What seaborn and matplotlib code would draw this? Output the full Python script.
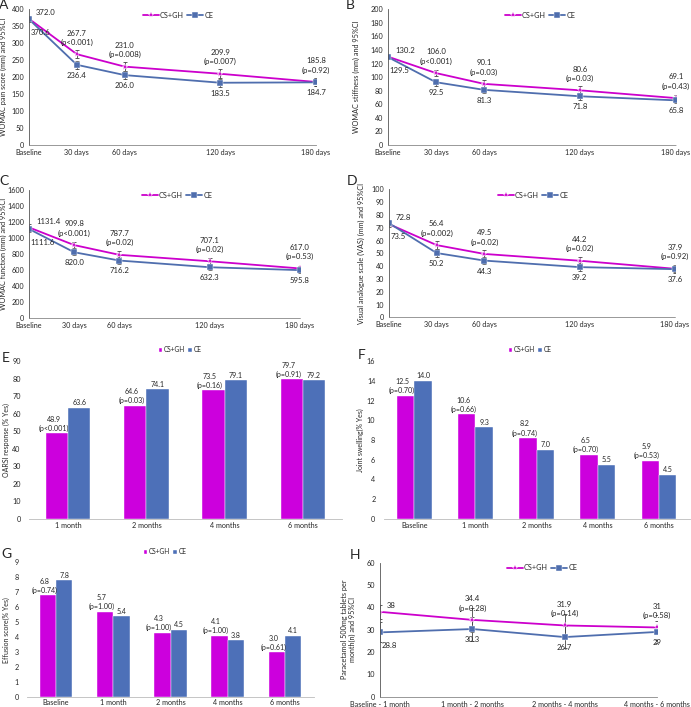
import numpy as np
import pandas as pd
import seaborn as sns
import matplotlib.pyplot as plt

sns.set_style('white')
plt.rcParams['font.family'] = ['Lato', 'DejaVu Sans']

groups = ['CS+GH', 'CE']
colors = {'CS+GH': '#CC00CC', 'CE': '#4F6EAE'}
bar_colors = {'CS+GH': '#CC00DD', 'CE': '#4D70B8'}

# line panels A-D
days = [0, 30, 60, 120, 180]
day_labels = ['Baseline', '30 days', '60 days', '120 days', '180 days']

pain_cs = [372.0, 267.7, 231.0, 209.9, 185.8]
pain_ce = [370.6, 236.4, 206.0, 183.5, 184.7]
pain_cs_err = [8, 12, 13, 13, 12]
pain_ce_err = [8, 12, 12, 12, 12]
pain_p = [None, 'p<0.001', 'p=0.008', 'p=0.007', 'p=0.92']

stiff_cs = [130.2, 106.0, 90.1, 80.6, 69.1]
stiff_ce = [129.5, 92.5, 81.3, 71.8, 65.8]
stiff_cs_err = [3, 5, 5, 6, 4]
stiff_ce_err = [3, 5, 4, 5, 4]
stiff_p = [None, 'p<0.001', 'p=0.03', 'p=0.03', 'p=0.43']

func_cs = [1131.4, 909.8, 787.7, 707.1, 617.0]
func_ce = [1111.6, 820.0, 716.2, 632.3, 595.8]
func_cs_err = [40, 40, 45, 45, 35]
func_ce_err = [35, 35, 40, 40, 35]
func_p = [None, 'p<0.001', 'p=0.02', 'p=0.02', 'p=0.53']

vas_cs = [72.8, 56.4, 49.5, 44.2, 37.9]
vas_ce = [73.5, 50.2, 44.3, 39.2, 37.6]
vas_cs_err = [2, 3, 3, 3, 3]
vas_ce_err = [2, 3, 3, 3, 2]
vas_p = [None, 'p=0.002', 'p=0.02', 'p=0.02', 'p=0.92']

# bar panels E-G
months4 = ['1 month', '2 months', '4 months', '6 months']
months5 = ['Baseline', '1 month', '2 months', '4 months', '6 months']

oarsi_cs = [48.9, 64.6, 73.5, 79.7]
oarsi_ce = [63.6, 74.1, 79.1, 79.2]
oarsi_p = ['p<0.001', 'p=0.03', 'p=0.16', 'p=0.91']

swell_cs = [12.5, 10.6, 8.2, 6.5, 5.9]
swell_ce = [14.0, 9.3, 7.0, 5.5, 4.5]
swell_p = ['p=0.70', 'p=0.66', 'p=0.74', 'p=0.70', 'p=0.53']

eff_cs = [6.8, 5.7, 4.3, 4.1, 3.0]
eff_ce = [7.8, 5.4, 4.5, 3.8, 4.1]
eff_p = ['p=0.74', 'p=1.00', 'p=1.00', 'p=1.00', 'p=0.61']

# panel H
periods = ['Baseline - 1 month', '1 month - 2 months', '2 months - 4 months', '4 months - 6 months']
para_cs = [38, 34.4, 31.9, 31]
para_ce = [28.8, 30.3, 26.7, 29]
para_cs_err = [3, 5.3, 5.1, 5.7]
para_ce_err = [4.5, 5.2, 4.9, 5.0]
para_p = [None, 'p=0.28', 'p=0.14', 'p=0.58']

W, H = 691, 707
fig = plt.figure(figsize=(W / 100, H / 100), dpi=100)


def rect(l, t, r, b):
    return [l / W, 1 - b / H, (r - l) / W, (b - t) / H]


def fig_xy(x, y):
    return (x / W, 1 - y / H)


FS = 5.2     # ticks, axis titles
LBL = 5.6    # value labels


def style_axis(ax):
    sns.despine(ax=ax)
    ax.spines['left'].set_linewidth(0.6)
    ax.spines['left'].set_color('#555555')
    ax.spines['bottom'].set_linewidth(0.6)
    ax.tick_params(axis='both', labelsize=FS, length=2, width=0.5, pad=1.5)


def place_ylabel(ax, px):
    # put the y label centre at figure pixel column px
    l, b, w, h = ax.get_position().bounds
    ax.yaxis.set_label_coords((px / W - l) / w, 0.5)


def line_panel(ax, x, cs, ce, cs_err, ce_err, pvals, ylim, ystep, ylabel,
               xticks, xlabels, minor=None, fmt='{:.1f}', leg_xy=None, label_x=5):
    n = len(x)
    df = pd.DataFrame({'x': list(x) * 2, 'value': list(cs) + list(ce),
                       'group': ['CS+GH'] * n + ['CE'] * n})
    ax.errorbar(x, cs, yerr=cs_err, fmt='none', ecolor='#444444', elinewidth=0.6, capsize=1.5, capthick=0.6, zorder=1)
    ax.errorbar(x, ce, yerr=ce_err, fmt='none', ecolor='#444444', elinewidth=0.6, capsize=1.5, capthick=0.6, zorder=1)
    sns.lineplot(data=df, x='x', y='value', hue='group', style='group', hue_order=groups,
                 style_order=groups, palette=colors, markers={'CS+GH': '*', 'CE': 's'},
                 dashes=False, linewidth=1.3, markersize=4.5, markeredgewidth=0.3, ax=ax)
    ax.set_ylim(*ylim)
    ax.set_xlim(x[0], xticks[-1])
    ax.set_yticks(np.arange(ylim[0], ylim[1] + ystep / 2, ystep))
    ax.set_xticks(xticks)
    ax.set_xticklabels(xlabels)
    if minor is not None:
        ax.set_xticks(minor, minor=True)
    style_axis(ax)
    ax.tick_params(axis='x', which='both', direction='inout', length=3, width=0.5, color='#888888')
    ax.set_xlabel('')
    ax.set_ylabel(ylabel, fontsize=FS)
    place_ylabel(ax, label_x)
    ax.spines['bottom'].set_linestyle((0, (1, 1)))
    ax.spines['bottom'].set_color('#888888')
    for i in range(n):
        if i == 0:
            ax.annotate(fmt.format(cs[i]), (x[i], cs[i]), xytext=(5, 2), textcoords='offset points',
                        fontsize=LBL, ha='left', va='bottom')
            ax.annotate(fmt.format(ce[i]), (x[i], ce[i]), xytext=(1, -7), textcoords='offset points',
                        fontsize=LBL, ha='left', va='top')
        else:
            ax.annotate(fmt.format(cs[i]) + '\n(' + pvals[i] + ')', (x[i], cs[i]), xytext=(0, 6),
                        textcoords='offset points', fontsize=LBL, ha='center', va='bottom',
                        linespacing=1.35)
            ax.annotate(fmt.format(ce[i]), (x[i], ce[i]), xytext=(0, -5), textcoords='offset points',
                        fontsize=LBL, ha='center', va='top')
    ax.legend(loc='center', bbox_to_anchor=fig_xy(*leg_xy), bbox_transform=fig.transFigure,
              ncol=2, frameon=False, fontsize=FS, handlelength=2.2, columnspacing=0.4,
              handletextpad=0.2, markerscale=0.9)


def bar_panel(ax, cats, cs, ce, pvals, ylim, ystep, ylabel, leg_xy, label_x=10):
    n = len(cats)
    df = pd.DataFrame({'cat': list(cats) * 2, 'value': list(cs) + list(ce),
                       'group': ['CS+GH'] * n + ['CE'] * n})
    sns.barplot(data=df, x='cat', y='value', hue='group', hue_order=groups, palette=bar_colors,
                width=0.57, saturation=1, edgecolor='white', linewidth=0.3, ax=ax)
    ax.set_ylim(*ylim)
    ax.set_xlim(-0.5, n - 0.5)
    ax.set_yticks(np.arange(ylim[0], ylim[1] + ystep / 2, ystep))
    ax.set_xlabel('')
    ax.set_ylabel(ylabel, fontsize=FS - 0.2)
    place_ylabel(ax, label_x)
    style_axis(ax)
    ax.spines['left'].set_visible(False)
    ax.spines['bottom'].set_color('#bbbbbb')
    ax.tick_params(axis='y', length=0, pad=6)
    ax.tick_params(axis='x', length=0, pad=2.5)
    cs_texts = ax.bar_label(ax.containers[0],
                            labels=['{:.1f}\n({})'.format(v, p) for v, p in zip(cs, pvals)],
                            padding=1, fontsize=LBL - 0.5, linespacing=1.35)
    for t in cs_texts:
        t.xyann = (-2.5, 1)   # p-value labels sit a bit left of the pink bar
    ax.bar_label(ax.containers[1], labels=['{:.1f}'.format(v) for v in ce],
                 padding=1, fontsize=LBL - 0.5)
    ax.legend(loc='center', bbox_to_anchor=fig_xy(*leg_xy), bbox_transform=fig.transFigure,
              ncol=2, frameon=False, fontsize=FS - 0.5, handlelength=0.6, handleheight=0.6,
              columnspacing=0.5, handletextpad=0.2)


axA = fig.add_axes(rect(29, 9.3, 316, 145))
line_panel(axA, days, pain_cs, pain_ce, pain_cs_err, pain_ce_err, pain_p, (0, 400), 50,
           'WOMAC pain score (mm) and 95%CI', days, day_labels, minor=[90, 150],
           leg_xy=(178, 15), label_x=7)

axB = fig.add_axes(rect(388, 9.3, 676, 145))
line_panel(axB, days, stiff_cs, stiff_ce, stiff_cs_err, stiff_ce_err, stiff_p, (0, 200), 20,
           'WOMAC stiffness (mm) and 95%CI', days, day_labels, minor=[90, 150],
           leg_xy=(540, 15), label_x=360)

axC = fig.add_axes(rect(29, 190, 300, 317.7))
line_panel(axC, days, func_cs, func_ce, func_cs_err, func_ce_err, func_p, (0, 1600), 200,
           'WOMAC function (mm) and 95%CI', days, day_labels, minor=[90, 150],
           leg_xy=(177, 195), label_x=7)

axD = fig.add_axes(rect(389, 189.3, 675, 317.3))
line_panel(axD, days, vas_cs, vas_ce, vas_cs_err, vas_ce_err, vas_p, (0, 100), 10,
           'Visual analogue scale (VAS) (mm) and 95%CI', days, day_labels, minor=[90, 150],
           leg_xy=(533, 195), label_x=365)

axE = fig.add_axes(rect(29, 361.3, 342, 519))
bar_panel(axE, months4, oarsi_cs, oarsi_ce, oarsi_p, (0, 90), 10, 'OARSI response (% Yes)',
          (180, 350), label_x=10)

axF = fig.add_axes(rect(383.7, 361, 689.6, 519))
bar_panel(axF, months5, swell_cs, swell_ce, swell_p, (0, 16), 2, 'Joint swelling(% Yes)',
          (530, 350), label_x=364)

axG = fig.add_axes(rect(27.4, 562.3, 313.6, 697.3))
bar_panel(axG, months5, eff_cs, eff_ce, eff_p, (0, 9), 1, 'Effusion score(% Yes)',
          (165, 552), label_x=10)
axG.tick_params(axis='x', pad=1.5)

axH = fig.add_axes(rect(380, 562.7, 657, 696.7))
xh = list(range(len(periods)))
line_panel(axH, xh, para_cs, para_ce, para_cs_err, para_ce_err, para_p, (0, 60), 10,
           'Paracetamol 500mg tablets per\nmonth(n) and 95%CI', xh, periods, fmt='{:g}',
           leg_xy=(542, 568), label_x=356)

for letter, (lx, ly) in zip('ABCDEFGH', [(4, 5), (350, 5), (4, 181), (352, 181), (6, 358),
                                          (362, 355), (6, 554), (355, 555)]):
    fig.text(*fig_xy(lx, ly), letter, fontsize=10, ha='center', va='center')

fig.savefig('out.png', dpi=100)
